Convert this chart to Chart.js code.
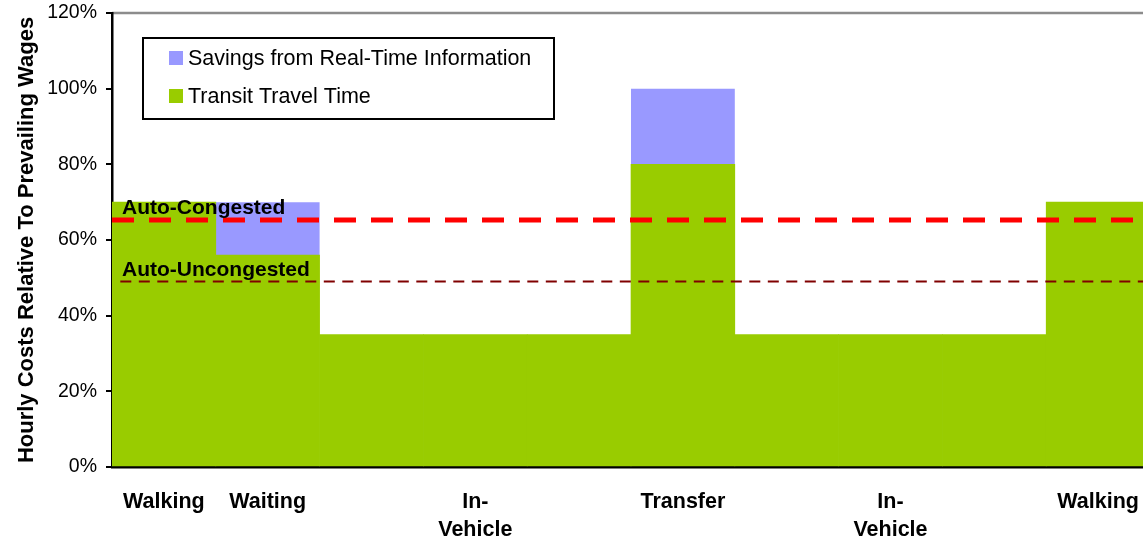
<!DOCTYPE html>
<html>
<head>
<meta charset="utf-8">
<script src="https://cdn.jsdelivr.net/npm/chart.js@4.4.1/dist/chart.umd.min.js"></script>
<style>
  body { margin: 0; overflow: hidden; background: #fff; }
  canvas { display: block; }
</style>
</head>
<body>
<canvas id="costChart" width="1150" height="540"></canvas>
<script>
var segmentLabels = ['Walking', 'Waiting', '', ['In-', 'Vehicle'], '', 'Transfer', '', ['In-', 'Vehicle'], '', 'Walking'];
var transitTime = [70, 56, 35, 35, 35, 80, 35, 35, 35, 70];
var rtiSavings = [0, 14, 0, 0, 0, 20, 0, 0, 0, 0];
var autoCongested = 65.3;
var autoUncongested = 49;
var yTicks = [0, 20, 40, 60, 80, 100, 120];

var FONT = "'Liberation Sans', Arial, sans-serif";
Chart.defaults.font.family = FONT;
Chart.defaults.color = '#000';

var extras = {
    id: 'extras',
    beforeDraw: function (chart) {
        // grey border on top of the plot area
        var a = chart.chartArea, ctx = chart.ctx;
        ctx.save();
        ctx.strokeStyle = '#8c8c8c';
        ctx.lineWidth = 2.5;
        ctx.beginPath();
        ctx.moveTo(a.left, a.top);
        ctx.lineTo(chart.width, a.top);
        ctx.stroke();
        ctx.restore();
    },
    afterDatasetsDraw: function (chart) {
        var ctx = chart.ctx;
        var y = chart.scales.y;
        ctx.save();
        ctx.font = 'bold 21px ' + FONT;
        ctx.fillStyle = '#000';
        ctx.textBaseline = 'alphabetic';
        for (var d of chart.data.datasets) {
            if (d.type != 'line') continue;
            ctx.fillText(d.label, chart.chartArea.left + 10, y.getPixelForValue(d.data[0].y) - 6);
        }
        ctx.restore();
    },
    afterDraw: function (chart) {
        // legend box like the original
        var ctx = chart.ctx, a = chart.chartArea;
        var x = a.left + 31, y = a.top + 25;
        ctx.save();
        ctx.fillStyle = '#fff';
        ctx.fillRect(x, y, 411, 81);
        ctx.strokeStyle = '#000';
        ctx.lineWidth = 2;
        ctx.strokeRect(x, y, 411, 81);
        var items = chart.data.datasets.filter(function (d) { return d.type != 'line'; }).reverse();
        ctx.font = '21.5px ' + FONT;
        ctx.textBaseline = 'middle';
        items.forEach(function (d, i) {
            var cy = y + 20 + i * 38;
            ctx.fillStyle = d.backgroundColor;
            ctx.fillRect(x + 26, cy - 7, 14, 14);
            ctx.fillStyle = '#000';
            ctx.fillText(d.label, x + 45, cy + 1);
        });
        ctx.restore();
    }
};

new Chart(document.getElementById('costChart'), {
    type: 'bar',
    data: {
        labels: segmentLabels,
        datasets: [
            {
                label: 'Transit Travel Time',
                data: transitTime,
                backgroundColor: '#99CC00',
                barPercentage: 1,
                categoryPercentage: 1,
                grouped: false,
                order: 1
            },
            {
                label: 'Savings from Real-Time Information',
                data: rtiSavings,
                backgroundColor: '#9999FF',
                barPercentage: 1,
                categoryPercentage: 1,
                grouped: false,
                inflateAmount: 0,
                order: 1
            },
            {
                type: 'line',
                label: 'Auto-Congested',
                xAxisID: 'x2',
                stack: 'cong',
                data: [{ x: 0, y: autoCongested }, { x: 10, y: autoCongested }],
                borderColor: '#FF0000',
                borderWidth: 5,
                borderDash: [22, 15],
                pointRadius: 0,
                fill: false,
                order: 0
            },
            {
                type: 'line',
                label: 'Auto-Uncongested',
                xAxisID: 'x2',
                stack: 'uncong',
                data: [{ x: 0.08, y: autoUncongested }, { x: 10, y: autoUncongested }],
                borderColor: '#800000',
                borderWidth: 2,
                borderDash: [11, 7.5],
                pointRadius: 0,
                fill: false,
                order: 0
            }
        ]
    },
    options: {
        responsive: false,
        animation: false,
        layout: { padding: { top: 13, left: 0, right: 0, bottom: 0 } },
        plugins: {
            legend: { display: false },
            tooltip: { enabled: false }
        },
        scales: {
            x: {
                stacked: true,
                afterFit: function (s) {
                    s.height = 73;
                    s.paddingLeft = 0;
                    s.paddingRight = 0;
                },
                grid: { display: false, drawTicks: false },
                border: { color: '#000', width: 2.5 },
                ticks: {
                    font: { size: 21.5, weight: 'bold', lineHeight: 1.3 },
                    padding: 21,
                    maxRotation: 0,
                    autoSkip: false
                }
            },
            x2: {
                type: 'linear',
                position: 'bottom',
                display: false,
                offset: false,
                min: 0,
                max: 10
            },
            y: {
                stacked: true,
                min: yTicks[0],
                max: yTicks[yTicks.length - 1],
                afterFit: function (s) {
                    s.width = 112;
                    s.paddingTop = 0;
                    s.paddingBottom = 0;
                },
                afterBuildTicks: function (s) {
                    s.ticks = yTicks.map(function (v) { return { value: v }; });
                },
                ticks: {
                    font: { size: 19.5 },
                    padding: 9,
                    callback: function (v) { return v + '%'; }
                },
                grid: { drawOnChartArea: false, color: '#000', lineWidth: 2, tickLength: 6 },
                border: { color: '#000', width: 2.5 },
                title: {
                    display: true,
                    text: 'Hourly Costs Relative To Prevailing Wages',
                    font: { size: 22, weight: 'bold' },
                    padding: { top: 14, bottom: 0 }
                }
            }
        }
    },
    plugins: [extras]
});
</script>
</body>
</html>
